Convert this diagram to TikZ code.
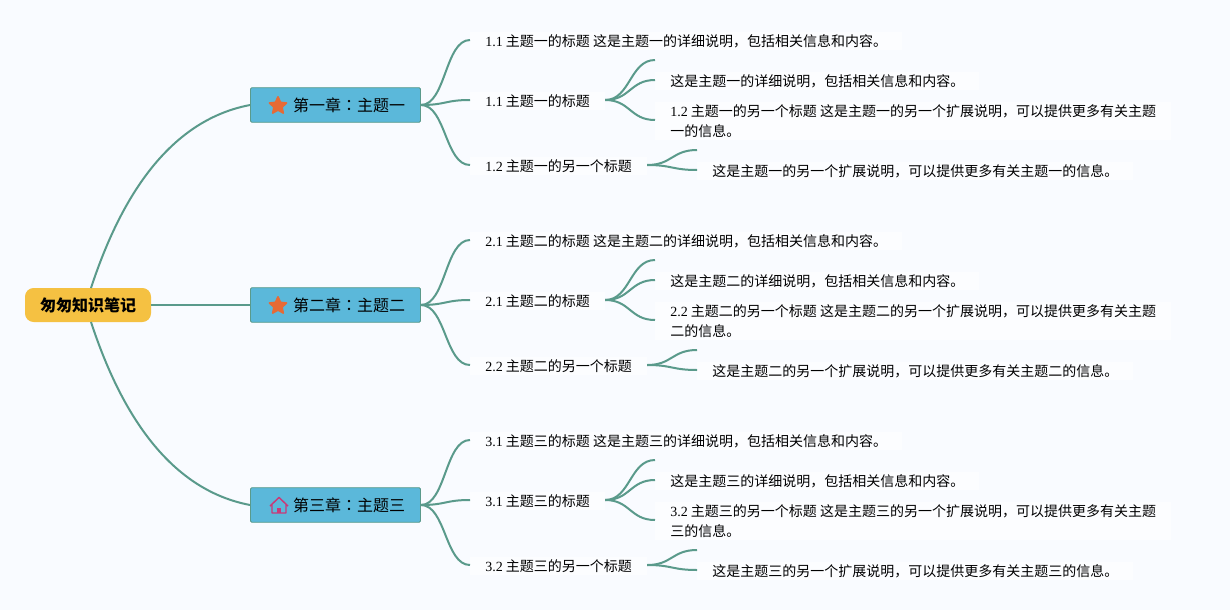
\documentclass[tikz,border=0pt]{standalone}
\usepackage{fontspec}
\setmainfont{Noto Sans CJK SC}
\newfontfamily\lat{Liberation Serif}
\newfontfamily\tcfont{Noto Sans CJK TC}
\usetikzlibrary{shapes.geometric}
\definecolor{pagebg}{HTML}{F9FBFF}
\definecolor{textbg}{HTML}{FCFDFF}
\definecolor{linkc}{HTML}{5A9A8B}
\definecolor{chapterc}{HTML}{5BB8DA}
\definecolor{rootc}{HTML}{F5C142}
\definecolor{starc}{HTML}{E66A35}
\definecolor{housec}{HTML}{C93A78}
\tikzset{
  link/.style={draw=linkc,line width=1.5pt},
  rootbox/.style={rectangle,rounded corners=6.5pt,fill=rootc,minimum width=94.5pt,minimum height=25.5pt,inner sep=0pt,font=\fontsize{12}{14}\selectfont\bfseries},
  chapterbox/.style={rectangle,draw=linkc,line width=.6pt,rounded corners=1pt,fill=chapterc,minimum width=127.5pt,minimum height=26pt,inner sep=0pt,font=\fontsize{12}{14}\selectfont},
  textbox/.style={anchor=west,fill=textbg,inner ysep=2pt,inner xsep=11.25pt,align=left,font=\fontsize{10.5}{15}\selectfont},
}
\begin{document}
\begin{tikzpicture}[x=.75pt,y=-.75pt]
\useasboundingbox[fill=pagebg] (0,0) rectangle (1230,610);

\node (root) at (88,305) [rootbox] {\raisebox{-.75pt}{匆匆知识笔记}};
\coordinate (rootup) at (91,288);
\coordinate (rootdown) at (91,322);

\foreach \cn/\cz in {1/一,2/二,3/三} {
  \pgfmathtruncatemacro\off{(\cn-1)*200}
  \begin{scope}[shift={(0,\off)}]
    \node (ch\cn) at (335.5,105) [chapterbox] {\hspace{20.25pt}\raisebox{-.75pt}{第\cz 章{\tcfont ：}主题\cz}};

    \ifnum\cn=3
      \draw[housec,line width=1.1pt,line join=round] (270,106) -- (279,97.5) -- (288,106) (272,104.5) -- (272,113) -- (286,113) -- (286,104.5);
      \fill[housec] (276.8,107.5) rectangle (281.2,113);
    \else
      \node (icon\cn) at (278,105.8) [star,star points=5,star point ratio=2.1,fill=starc,draw=starc,line join=round,line width=1.2pt,minimum size=13.5pt,inner sep=0pt] {};
    \fi

    \node (a\cn) at (470,41) [textbox] {{\lat \cn.1} 主题\cz 的标题 这是主题\cz 的详细说明，包括相关信息和内容。};
    \node (b\cn) at (470,101) [textbox] {{\lat \cn.1} 主题\cz 的标题};
    \node (c\cn) at (470,166) [textbox] {{\lat \cn.2} 主题\cz 的另一个标题};

    \coordinate (ba\cn) at (655,60);
    \node (bb\cn) at (655,81) [textbox] {这是主题\cz 的详细说明，包括相关信息和内容。};
    \node (bc\cn) at (655,121) [textbox] {{\lat \cn.2} 主题\cz 的另一个标题 这是主题\cz 的另一个扩展说明，可以提供更多有关主题\\\cz 的信息。};

    \coordinate (ca\cn) at (697,150);
    \node (cb\cn) at (697,171) [textbox] {这是主题\cz 的另一个扩展说明，可以提供更多有关主题\cz 的信息。};

    \foreach \t in {a,b,c}
      \draw[link] (ch\cn.east) .. controls +(25,0) and +(-25,0) .. ([yshift=.75pt]\t\cn.west);
    \draw[link] ([yshift=.75pt]b\cn.east) .. controls +(25,0) and +(-25,0) .. (ba\cn);
    \foreach \t in {bb,bc}
      \draw[link] ([yshift=.75pt]b\cn.east) .. controls +(25,0) and +(-25,0) .. ([yshift=.75pt]\t\cn.west);
    \draw[link] ([yshift=.75pt]c\cn.east) .. controls +(25,0) and +(-25,0) .. (ca\cn);
    \draw[link] ([yshift=.75pt]c\cn.east) .. controls +(25,0) and +(-25,0) .. ([yshift=.75pt]cb\cn.west);
  \end{scope}
}

\draw[link] (rootup) .. controls (115,215) and (160,122) .. (ch1.west);
\draw[link] (root.east) -- (ch2.west);
\draw[link] (rootdown) .. controls (115,395) and (160,488) .. (ch3.west);

\end{tikzpicture}
\end{document}
